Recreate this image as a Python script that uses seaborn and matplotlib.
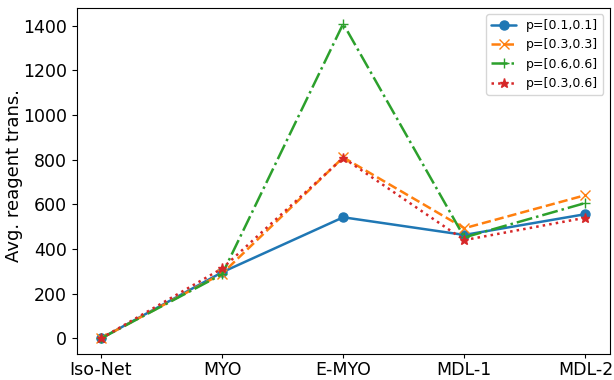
import numpy as np
import pandas as pd
import matplotlib
matplotlib.use("Agg")
import matplotlib.pyplot as plt
import seaborn as sns

sns.set_style("ticks")
plt.rcParams['font.family'] = ['DejaVu Sans']
plt.rcParams.update({'text.color': 'black', 'axes.labelcolor': 'black',
                     'xtick.color': 'black', 'ytick.color': 'black',
                     'axes.edgecolor': 'black',
                     'xtick.major.size': 3.0, 'ytick.major.size': 3.5,
                     'xtick.major.pad': 2.0, 'ytick.major.pad': 3.5})

methods = ['Iso-Net', 'MYO', 'E-MYO', 'MDL-1', 'MDL-2']
p_01_01 = [0, 296, 542, 463, 556]
p_03_03 = [0, 290, 810, 493, 641]
p_06_06 = [0, 287, 1408, 452, 606]
p_03_06 = [0, 313, 808, 440, 540]

series = {
    'p=[0.1,0.1]': p_01_01,
    'p=[0.3,0.3]': p_03_03,
    'p=[0.6,0.6]': p_06_06,
    'p=[0.3,0.6]': p_03_06,
}
styles = {
    'p=[0.1,0.1]': ('#1f77b4', '-', 'o'),
    'p=[0.3,0.3]': ('#ff7f0e', '--', 'x'),
    'p=[0.6,0.6]': ('#2ca02c', '-.', '+'),
    'p=[0.3,0.6]': ('#d62728', ':', '*'),
}

fig, ax = plt.subplots(figsize=(6.14, 3.8), dpi=100)
xpos = np.arange(len(methods))
for name, vals in series.items():
    color, ls, mk = styles[name]
    df = pd.DataFrame({'x': xpos, 'y': vals})
    sns.lineplot(data=df, x='x', y='y', ax=ax, color=color, linestyle=ls,
                 marker=mk, markersize=6.5, linewidth=1.8, label=name,
                 markeredgecolor=color, markeredgewidth=1)

ax.set_xticks(xpos)
ax.set_xticklabels(methods)
ax.set_xlabel('')
ax.set_ylabel('Avg. reagent trans.', fontsize=13)
ax.yaxis.set_label_coords(-0.101, 0.515)
ax.tick_params(labelsize=12.5)
ax.legend(fontsize=9, loc='upper right')
fig.subplots_adjust(left=0.125, right=0.993, top=0.979, bottom=0.068)
fig.savefig('out.png')
